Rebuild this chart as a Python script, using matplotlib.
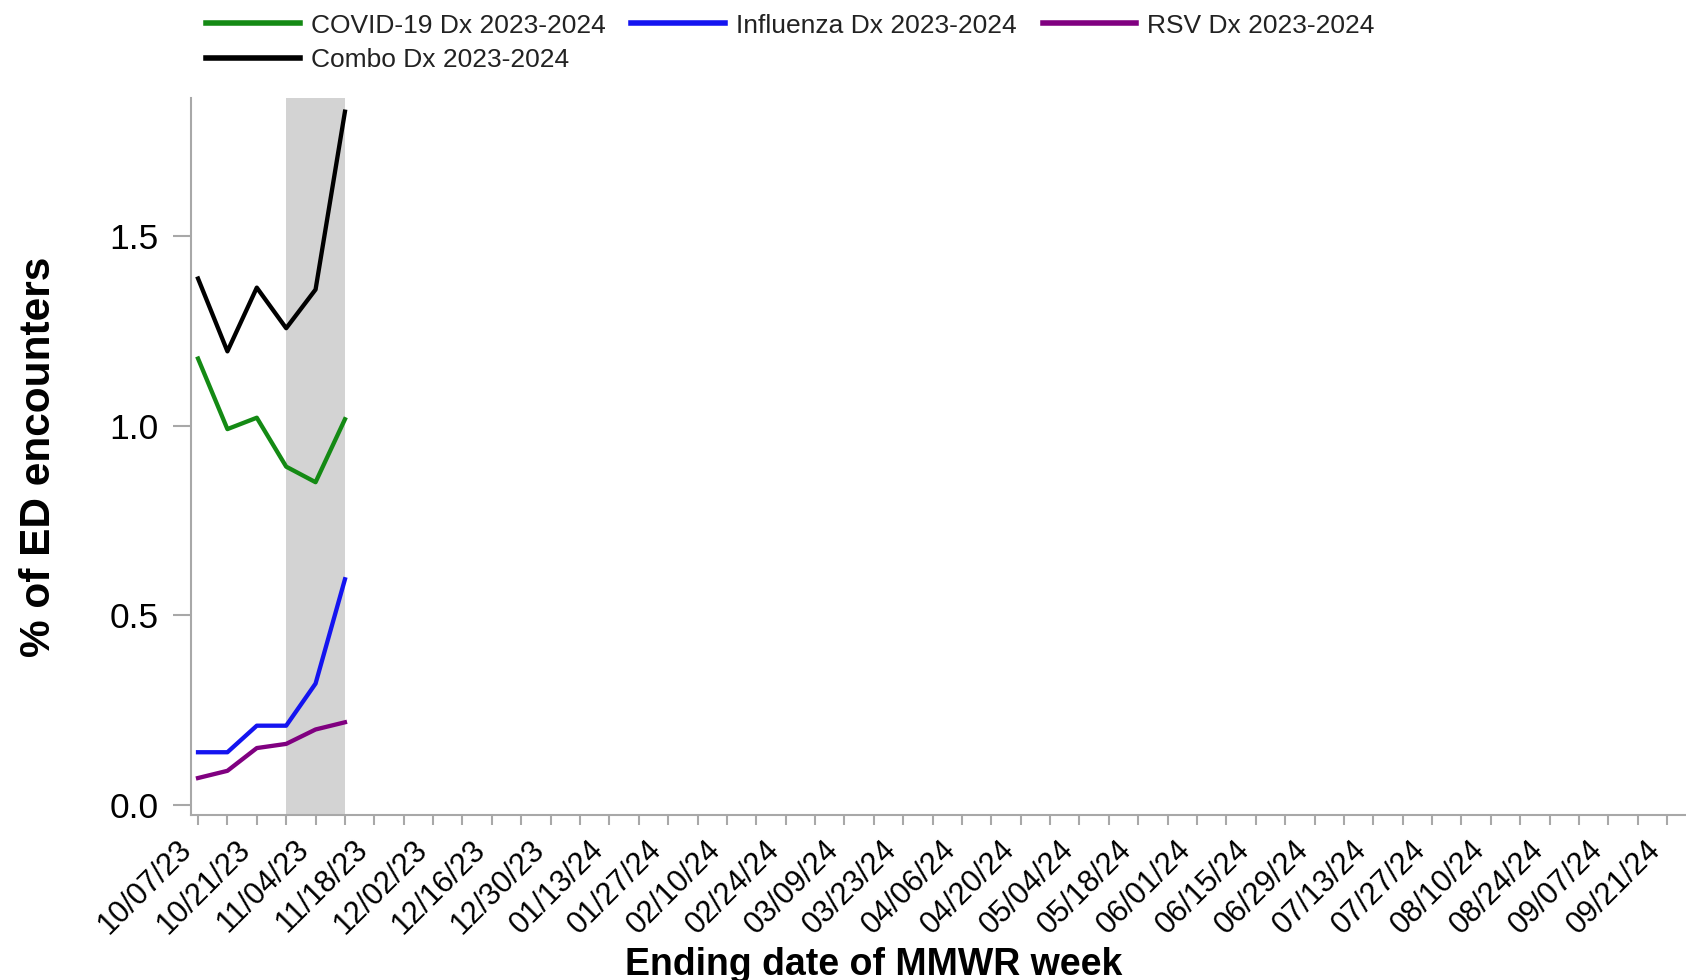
import matplotlib
matplotlib.use("Agg")
import matplotlib.pyplot as plt
import matplotlib.transforms as mtransforms
import pandas as pd

# ---- data ----
week_ending = ["2023-10-07", "2023-10-14", "2023-10-21", "2023-10-28", "2023-11-04", "2023-11-11"]
covid = [1.177, 0.991, 1.021, 0.892, 0.851, 1.017]
influenza = [0.139, 0.139, 0.209, 0.209, 0.320, 0.595]
rsv = [0.071, 0.090, 0.150, 0.161, 0.199, 0.218]
combo = [1.388, 1.196, 1.364, 1.257, 1.359, 1.828]

series_labels = ["COVID-19 Dx 2023-2024", "Influenza Dx 2023-2024", "RSV Dx 2023-2024", "Combo Dx 2023-2024"]
shade_start = "2023-10-28"
shade_end = "2023-11-11"
tick_start = "2023-10-07"
tick_end = "2024-09-21"
y_ticks = [0.0, 0.5, 1.0, 1.5]
y_tick_labels = ["0.0", "0.5", "1.0", "1.5"]

plt.rcParams['font.family'] = ['Liberation Sans', 'DejaVu Sans']

fig = plt.figure(figsize=(16.86, 9.80), dpi=100)
ax = fig.add_axes([0.1131, 0.1684, 0.8869, 0.7316])

dates = pd.to_datetime(week_ending)
colors = ["#148a14", "#1414f0", "#800080", "#000000"]
vals = [covid, influenza, rsv, combo]
lines = []
for v, c, lab in zip(vals, colors, series_labels):
    ln, = ax.plot(dates, v, color=c, lw=3.1, label=lab)
    lines.append(ln)

ax.axvspan(pd.Timestamp(shade_start), pd.Timestamp(shade_end), color="#d3d3d3", zorder=0, lw=0)

ticks = pd.date_range(tick_start, tick_end, freq="7D")
ax.set_xticks(ticks)
ax.set_xticklabels([t.strftime("%m/%d/%y") if i % 2 == 0 else "" for i, t in enumerate(ticks)],
                   rotation=45, ha="right", fontsize=22)
offset = mtransforms.ScaledTranslation(3 / 100, 0, fig.dpi_scale_trans)
for lab in ax.get_xticklabels():
    lab.set_transform(lab.get_transform() + offset)
ax.set_xlim(pd.Timestamp(tick_start) - pd.Timedelta(days=1.75),
            pd.Timestamp(tick_start) + pd.Timedelta(days=354.5))
ax.set_ylim(-0.0264, 1.864)
ax.set_yticks(y_ticks)
ax.set_yticklabels(y_tick_labels, fontsize=25.5)

spine_col = "#a8a8a8"
for s in ["top", "right"]:
    ax.spines[s].set_visible(False)
for s in ["left", "bottom"]:
    ax.spines[s].set_color(spine_col)
    ax.spines[s].set_linewidth(1.5)
ax.tick_params(axis="y", length=13, width=1.5, color=spine_col, pad=10)
ax.tick_params(axis="x", length=7, width=1.5, color=spine_col, pad=7)

ax.set_ylabel("% of ED encounters", fontsize=30.5, fontweight="bold")
ax.yaxis.set_label_coords(-0.088, 0.5)
ax.set_xlabel("Ending date of MMWR week", fontsize=27, fontweight="bold")
ax.xaxis.set_label_coords(0.457, -0.184)

order = [0, 3, 1, 2]
leg = fig.legend([lines[i] for i in order], [series_labels[i] for i in order],
                 loc="upper left", bbox_to_anchor=(0.1222, 0.986), ncol=3, frameon=False,
                 fontsize=19, handlelength=3.55, handletextpad=0.42, columnspacing=0.98,
                 labelspacing=0.38, borderpad=0, borderaxespad=0)
for h in leg.legend_handles:
    h.set_linewidth(4)
for t in leg.get_texts():
    t.set_color("#222222")

fig.savefig("out.png", dpi=100)
